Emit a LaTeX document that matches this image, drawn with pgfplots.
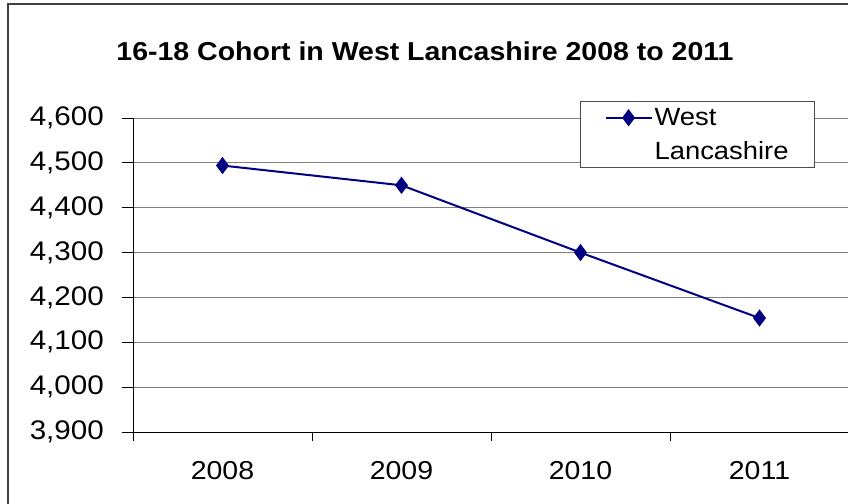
\documentclass[border=0pt]{standalone}
\usepackage{pgfplots}
\pgfplotsset{compat=1.18}
\usepackage{fontspec}
\setmainfont{Liberation Sans}[FakeStretch=1.1]
\definecolor{seriesblue}{HTML}{000080}

\begin{document}
\begin{tikzpicture}
\useasboundingbox (0,0) rectangle (848bp,504bp);
\clip (0,0) rectangle (848bp,504bp);
\fill[white] (0,0) rectangle (848bp,504bp);
% outer chart frame (cut off at right and bottom)
\draw[line width=1.3bp, black!75] (8bp,-20bp) rectangle (880bp,500bp);
\node[font=\fontsize{26}{29}\selectfont\bfseries] at (425bp,453bp)
  {16-18 Cohort in West Lancashire 2008 to 2011};
\begin{axis}[
    at={(133bp,72bp)}, anchor=south west,
    scale only axis,
    width=716bp, height=314bp,
    xmin=-0.5, xmax=3.5,
    ymin=3900, ymax=4600,
    xtick={0,1,2,3},
    xticklabels={2008,2009,2010,2011},
    minor xtick={-0.5,0.5,1.5,2.5,3.5},
    major x tick style={draw=none},
    minor x tick style={draw=black, line width=0.8bp},
    ytick={3900,4000,...,4600},
    major y tick style={draw=black, line width=0.8bp},
    tick align=outside,
    major tick length=11bp,
    minor tick length=9bp,
    axis x line*=bottom,
    axis y line*=left,
    axis line style={-, line width=0.9bp, black},
    ymajorgrids=true,
    grid style={line width=0.8bp, black!50},
    /pgf/number format/assume math mode=true,
    /pgf/number format/.cd, 1000 sep={,},
    /pgfplots/.cd,
    yticklabel style={font=\fontsize{27}{29}\selectfont, inner sep=0pt, xshift=-18bp},
    xticklabel style={font=\fontsize{26}{28}\selectfont, yshift=-15bp},
    legend style={
      at={(0.9525,1.054)}, anchor=north east,
      draw=black!70, line width=0.8bp, fill=white,
      font=\fontsize{25}{27}\selectfont,
      inner xsep=24bp, inner ysep=5bp, row sep=10bp,
      cells={anchor=west, inner xsep=1bp},
    },
    legend image code/.code={
      \draw[mark repeat=2,mark phase=2,#1]
        plot coordinates {(0bp,0bp) (23bp,0bp) (46bp,0bp)};
    },
]
\addplot[color=seriesblue, line width=2bp, mark=diamond*,
         mark size=7bp, mark options={fill=seriesblue, solid}]
  coordinates {(0,4494) (1,4450) (2,4300) (3,4154)};
\addlegendentry{West}
\addlegendimage{empty legend}
\addlegendentry{Lancashire}
\end{axis}
\end{tikzpicture}
\end{document}
